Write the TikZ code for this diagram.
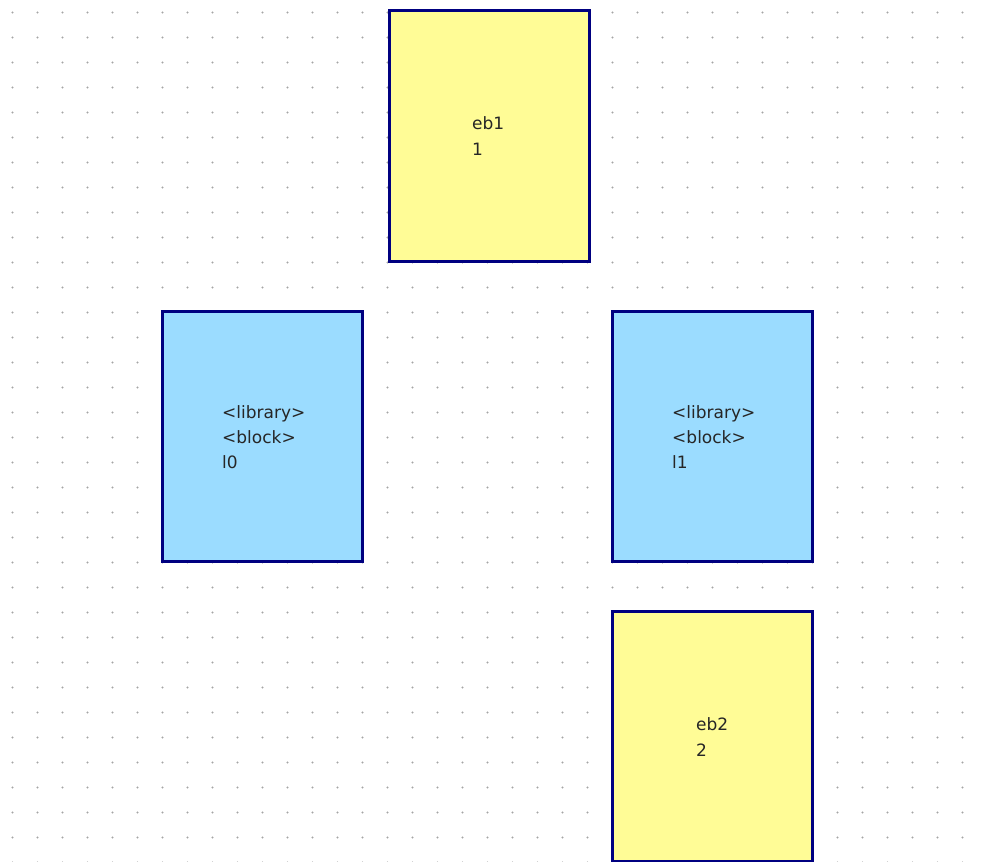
\documentclass[tikz,border=0pt]{standalone}
\usepackage{fontspec}
\newfontfamily\diagfont{DejaVu Sans}
\definecolor{ebfill}{RGB}{255,252,150}
\definecolor{libfill}{RGB}{155,220,255}
\definecolor{navy}{RGB}{0,0,128}
\definecolor{dotgray}{RGB}{165,165,165}
\begin{document}
\begin{tikzpicture}[x=1pt,y=-1pt,
  blockbox/.style={draw=navy,line width=3pt,rectangle,minimum width=200pt,minimum height=250pt,inner sep=0pt},
  ebbox/.style={blockbox,fill=ebfill},
  libbox/.style={blockbox,fill=libfill},
  lbl/.style={anchor=base west,inner sep=0pt,font=\diagfont\fontsize{17}{20}\selectfont,text=black!85}]
\useasboundingbox (0,0) rectangle (984,861);
\foreach \i in {0,...,38}{
  \foreach \j in {0,...,34}{
    \fill[dotgray] (12.5+25*\i,12.5+25*\j) circle (1.1pt);
  }
}
\node[ebbox] (eb1) at (489,136) {};
\node[libbox] (l0) at (262.5,436) {};
\node[libbox] (l1) at (712.5,436) {};
\node[ebbox] (eb2) at (712.5,736) {};
\node[lbl] (eb1a) at (472,130) {eb1};
\node[lbl] (eb1b) at (472,156) {1};
\node[lbl] (l0a) at (222,418) {<library>};
\node[lbl] (l0b) at (222,443) {<block>};
\node[lbl] (l0c) at (222,468) {l0};
\node[lbl] (l1a) at (672,418) {<library>};
\node[lbl] (l1b) at (672,443) {<block>};
\node[lbl] (l1c) at (672,468) {l1};
\node[lbl] (eb2a) at (696,730) {eb2};
\node[lbl] (eb2b) at (696,756) {2};
\end{tikzpicture}
\end{document}
